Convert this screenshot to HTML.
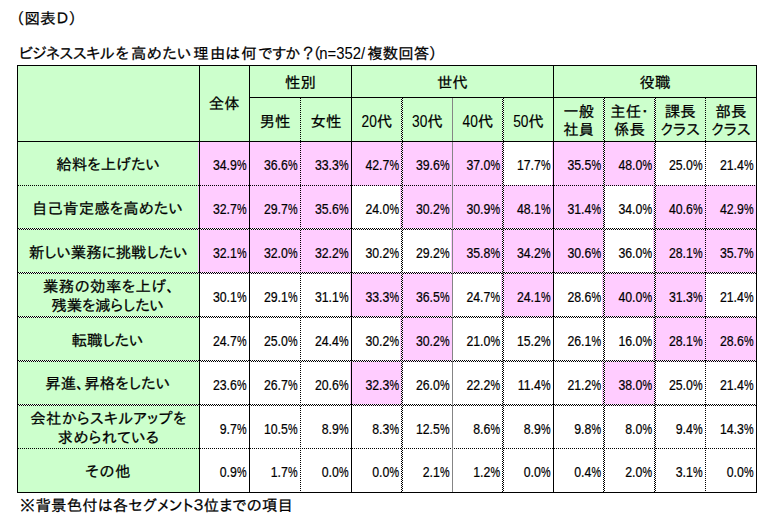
<!DOCTYPE html>
<html lang="ja"><head><meta charset="utf-8"><title>図表D</title>
<style>
html,body{margin:0;padding:0;background:#fff;}
body{width:770px;height:524px;overflow:hidden;}
svg{display:block;}
text{white-space:pre;}
.d{font-family:"Liberation Sans",sans-serif;font-size:15.5px;stroke-width:0.22px;}
.n{font-family:"Liberation Sans",sans-serif;font-size:16px;stroke-width:0.1px;}
</style></head><body>
<svg width="770" height="524" viewBox="0 0 770 524">
<rect x="0" y="0" width="770" height="524" fill="#fff"/>
<g shape-rendering="crispEdges">
<rect x="17" y="65" width="740" height="77" fill="#ccffcc"/>
<rect x="17" y="141" width="183" height="352" fill="#ccffcc"/>
<rect x="198" y="141" width="306" height="45" fill="#ffccff"/>
<rect x="552" y="141" width="104" height="45" fill="#ffccff"/>
<rect x="198" y="185" width="154" height="45" fill="#ffccff"/>
<rect x="400" y="185" width="205" height="45" fill="#ffccff"/>
<rect x="653" y="185" width="104" height="45" fill="#ffccff"/>
<rect x="198" y="228" width="154" height="46" fill="#ffccff"/>
<rect x="451" y="228" width="154" height="46" fill="#ffccff"/>
<rect x="653" y="228" width="104" height="46" fill="#ffccff"/>
<rect x="350" y="272" width="103" height="46" fill="#ffccff"/>
<rect x="501" y="272" width="53" height="46" fill="#ffccff"/>
<rect x="602" y="272" width="104" height="46" fill="#ffccff"/>
<rect x="400" y="316" width="53" height="46" fill="#ffccff"/>
<rect x="653" y="316" width="104" height="46" fill="#ffccff"/>
<rect x="350" y="360" width="53" height="46" fill="#ffccff"/>
<rect x="602" y="360" width="54" height="46" fill="#ffccff"/>
<line x1="18" y1="185.5" x2="757" y2="185.5" stroke="#000" stroke-dasharray="1 1"/>
<rect x="18" y="228" width="739" height="2" fill="#fff" fill-opacity="0.6"/>
<line x1="18" y1="228.5" x2="757" y2="228.5" stroke="#000" stroke-dasharray="1 1"/>
<line x1="19" y1="229.5" x2="757" y2="229.5" stroke="#000" stroke-dasharray="1 1"/>
<rect x="18" y="272" width="739" height="2" fill="#fff" fill-opacity="0.6"/>
<line x1="18" y1="272.5" x2="757" y2="272.5" stroke="#000" stroke-dasharray="1 1"/>
<line x1="19" y1="273.5" x2="757" y2="273.5" stroke="#000" stroke-dasharray="1 1"/>
<rect x="18" y="316" width="739" height="2" fill="#fff" fill-opacity="0.6"/>
<line x1="18" y1="316.5" x2="757" y2="316.5" stroke="#000" stroke-dasharray="1 1"/>
<line x1="19" y1="317.5" x2="757" y2="317.5" stroke="#000" stroke-dasharray="1 1"/>
<rect x="18" y="360" width="739" height="2" fill="#fff" fill-opacity="0.6"/>
<line x1="18" y1="360.5" x2="757" y2="360.5" stroke="#000" stroke-dasharray="1 1"/>
<line x1="19" y1="361.5" x2="757" y2="361.5" stroke="#000" stroke-dasharray="1 1"/>
<rect x="18" y="404" width="739" height="2" fill="#fff" fill-opacity="0.6"/>
<line x1="18" y1="404.5" x2="757" y2="404.5" stroke="#000" stroke-dasharray="1 1"/>
<line x1="19" y1="405.5" x2="757" y2="405.5" stroke="#000" stroke-dasharray="1 1"/>
<line x1="18" y1="448.5" x2="757" y2="448.5" stroke="#000" stroke-dasharray="1 1"/>
<line x1="300.5" y1="98" x2="300.5" y2="493" stroke="#000" stroke-dasharray="1 1"/>
<rect x="401" y="98" width="2" height="395" fill="#fff" fill-opacity="0.6"/>
<line x1="401.5" y1="99" x2="401.5" y2="493" stroke="#000" stroke-dasharray="1 1"/>
<line x1="402.5" y1="98" x2="402.5" y2="493" stroke="#000" stroke-dasharray="1 1"/>
<rect x="452" y="98" width="1" height="395" fill="#858585"/>
<rect x="502" y="98" width="2" height="395" fill="#fff" fill-opacity="0.6"/>
<line x1="502.5" y1="99" x2="502.5" y2="493" stroke="#000" stroke-dasharray="1 1"/>
<line x1="503.5" y1="98" x2="503.5" y2="493" stroke="#000" stroke-dasharray="1 1"/>
<rect x="603" y="98" width="2" height="395" fill="#fff" fill-opacity="0.6"/>
<line x1="603.5" y1="99" x2="603.5" y2="493" stroke="#000" stroke-dasharray="1 1"/>
<line x1="604.5" y1="98" x2="604.5" y2="493" stroke="#000" stroke-dasharray="1 1"/>
<rect x="654" y="98" width="2" height="395" fill="#fff" fill-opacity="0.6"/>
<line x1="654.5" y1="99" x2="654.5" y2="493" stroke="#000" stroke-dasharray="1 1"/>
<line x1="655.5" y1="98" x2="655.5" y2="493" stroke="#000" stroke-dasharray="1 1"/>
<line x1="705.5" y1="98" x2="705.5" y2="493" stroke="#000" stroke-dasharray="1 1"/>
<rect x="17" y="65" width="740" height="1" fill="#000"/>
<rect x="17" y="141" width="740" height="1" fill="#000"/>
<rect x="17" y="492" width="740" height="1" fill="#000"/>
<rect x="249" y="97" width="508" height="1" fill="#000"/>
<rect x="17" y="65" width="1" height="428" fill="#000"/>
<rect x="199" y="65" width="1" height="428" fill="#000"/>
<rect x="249" y="65" width="1" height="428" fill="#000"/>
<rect x="351" y="65" width="1" height="428" fill="#000"/>
<rect x="553" y="65" width="1" height="428" fill="#000"/>
<rect x="756" y="65" width="1" height="428" fill="#000"/>
</g>
<g font-family='"Liberation Sans","IPAPGothic","IPAGothic","Noto Sans CJK JP",sans-serif' font-size="15.4" fill="#000" stroke="#000" stroke-width="0.25">
<text textLength="39.70" lengthAdjust="spacing" x="16.00" y="24.3" letter-spacing="0.150">（図表</text>
<text x="57.00" y="24.3">Ｄ</text>
<text x="68.60" y="24.3">）</text>
<text textLength="95.02" lengthAdjust="spacing" x="19.20" y="59.0" letter-spacing="-0.433">ビジネススキル</text>
<text x="312.70" y="59.0">（</text>
<text textLength="61.97" lengthAdjust="spacing" x="367.30" y="59.0" letter-spacing="0.100">複数回答</text>
<text x="428.80" y="59.0">）</text>
<text textLength="273.38" lengthAdjust="spacing" x="19.80" y="511.3" letter-spacing="0.228">※背景色付は各セグメント３位までの項目</text>
<text textLength="103.88" lengthAdjust="spacing" x="56.20" y="170.0" letter-spacing="0.150">給料を上げたい</text>
<text textLength="150.97" lengthAdjust="spacing" x="32.00" y="214.0" letter-spacing="0.167">自己肯定感を高めたい</text>
<text textLength="158.61" lengthAdjust="spacing" x="28.90" y="257.8" letter-spacing="0.020">新しい業務に挑戦したい</text>
<text textLength="131.84" lengthAdjust="spacing" x="42.90" y="291.8" letter-spacing="0.488">業務の効率を上げ、</text>
<text textLength="112.59" lengthAdjust="spacing" x="51.30" y="310.5" letter-spacing="-0.029">残業を減らしたい</text>
<text textLength="71.86" lengthAdjust="spacing" x="71.60" y="345.7" letter-spacing="0.025">転職したい</text>
<text textLength="125.02" lengthAdjust="spacing" x="45.20" y="389.2" letter-spacing="0.175">昇進、昇格をしたい</text>
<text textLength="156.31" lengthAdjust="spacing" x="30.20" y="424.2" letter-spacing="0.330">会社からスキルアップを</text>
<text textLength="101.62" lengthAdjust="spacing" x="57.60" y="442.7" letter-spacing="0.467">求められている</text>
<text textLength="46.27" lengthAdjust="spacing" x="85.20" y="476.9" letter-spacing="0.850">その他</text>
<text x="115.5 131.1 146.7 162.3 177.0 193.3 210.1 225.6 241.2 258.6 272.2 285.2 302.5" y="59.0">を高めたい理由は何ですか？</text>
<text class="n" style="stroke-width:0.05px" transform="translate(319.3,59.0) scale(0.93,1)">n=352/</text>
<text x="224.2" y="108.5" text-anchor="middle">全体</text>
<text x="300.5" y="87.8" text-anchor="middle">性別</text>
<text x="452.5" y="87.8" text-anchor="middle">世代</text>
<text x="655.0" y="87.8" text-anchor="middle">役職</text>
<text x="275.0" y="126.8" text-anchor="middle">男性</text>
<text x="326.0" y="126.8" text-anchor="middle">女性</text>
<text class="n" transform="translate(376.9,126.8) scale(0.86,1)" text-anchor="end">20</text>
<text x="377.1" y="126.8">代</text>
<text class="n" transform="translate(427.4,126.8) scale(0.86,1)" text-anchor="end">30</text>
<text x="427.6" y="126.8">代</text>
<text class="n" transform="translate(477.9,126.8) scale(0.86,1)" text-anchor="end">40</text>
<text x="478.1" y="126.8">代</text>
<text class="n" transform="translate(528.5,126.8) scale(0.86,1)" text-anchor="end">50</text>
<text x="528.6" y="126.8">代</text>
<text x="578.75" y="117.2" text-anchor="middle">一般</text>
<text x="578.75" y="135.4" text-anchor="middle">社員</text>
<text x="629.5" y="117.2" text-anchor="middle">主任・</text>
<text x="629.5" y="135.4" text-anchor="middle">係長</text>
<text x="680.25" y="117.2" text-anchor="middle">課長</text>
<text x="680.25" y="135.4" text-anchor="middle">クラス</text>
<text x="731.0" y="117.2" text-anchor="middle">部長</text>
<text x="731.0" y="135.4" text-anchor="middle">クラス</text>
<text class="d" transform="translate(236.9,170.2) scale(0.795,1)" text-anchor="end">34.9</text>
<text class="d" transform="translate(246.7,170.2) scale(0.7,1)" text-anchor="end">%</text>
<text class="d" transform="translate(287.9,170.2) scale(0.795,1)" text-anchor="end">36.6</text>
<text class="d" transform="translate(297.7,170.2) scale(0.7,1)" text-anchor="end">%</text>
<text class="d" transform="translate(338.9,170.2) scale(0.795,1)" text-anchor="end">33.3</text>
<text class="d" transform="translate(348.7,170.2) scale(0.7,1)" text-anchor="end">%</text>
<text class="d" transform="translate(389.4,170.2) scale(0.795,1)" text-anchor="end">42.7</text>
<text class="d" transform="translate(399.2,170.2) scale(0.7,1)" text-anchor="end">%</text>
<text class="d" transform="translate(439.9,170.2) scale(0.795,1)" text-anchor="end">39.6</text>
<text class="d" transform="translate(449.7,170.2) scale(0.7,1)" text-anchor="end">%</text>
<text class="d" transform="translate(490.4,170.2) scale(0.795,1)" text-anchor="end">37.0</text>
<text class="d" transform="translate(500.2,170.2) scale(0.7,1)" text-anchor="end">%</text>
<text class="d" transform="translate(540.9,170.2) scale(0.795,1)" text-anchor="end">17.7</text>
<text class="d" transform="translate(550.7,170.2) scale(0.7,1)" text-anchor="end">%</text>
<text class="d" transform="translate(591.4,170.2) scale(0.795,1)" text-anchor="end">35.5</text>
<text class="d" transform="translate(601.2,170.2) scale(0.7,1)" text-anchor="end">%</text>
<text class="d" transform="translate(642.4,170.2) scale(0.795,1)" text-anchor="end">48.0</text>
<text class="d" transform="translate(652.2,170.2) scale(0.7,1)" text-anchor="end">%</text>
<text class="d" transform="translate(692.9,170.2) scale(0.795,1)" text-anchor="end">25.0</text>
<text class="d" transform="translate(702.7,170.2) scale(0.7,1)" text-anchor="end">%</text>
<text class="d" transform="translate(743.9,170.2) scale(0.795,1)" text-anchor="end">21.4</text>
<text class="d" transform="translate(753.7,170.2) scale(0.7,1)" text-anchor="end">%</text>
<text class="d" transform="translate(236.9,214.2) scale(0.795,1)" text-anchor="end">32.7</text>
<text class="d" transform="translate(246.7,214.2) scale(0.7,1)" text-anchor="end">%</text>
<text class="d" transform="translate(287.9,214.2) scale(0.795,1)" text-anchor="end">29.7</text>
<text class="d" transform="translate(297.7,214.2) scale(0.7,1)" text-anchor="end">%</text>
<text class="d" transform="translate(338.9,214.2) scale(0.795,1)" text-anchor="end">35.6</text>
<text class="d" transform="translate(348.7,214.2) scale(0.7,1)" text-anchor="end">%</text>
<text class="d" transform="translate(389.4,214.2) scale(0.795,1)" text-anchor="end">24.0</text>
<text class="d" transform="translate(399.2,214.2) scale(0.7,1)" text-anchor="end">%</text>
<text class="d" transform="translate(439.9,214.2) scale(0.795,1)" text-anchor="end">30.2</text>
<text class="d" transform="translate(449.7,214.2) scale(0.7,1)" text-anchor="end">%</text>
<text class="d" transform="translate(490.4,214.2) scale(0.795,1)" text-anchor="end">30.9</text>
<text class="d" transform="translate(500.2,214.2) scale(0.7,1)" text-anchor="end">%</text>
<text class="d" transform="translate(540.9,214.2) scale(0.795,1)" text-anchor="end">48.1</text>
<text class="d" transform="translate(550.7,214.2) scale(0.7,1)" text-anchor="end">%</text>
<text class="d" transform="translate(591.4,214.2) scale(0.795,1)" text-anchor="end">31.4</text>
<text class="d" transform="translate(601.2,214.2) scale(0.7,1)" text-anchor="end">%</text>
<text class="d" transform="translate(642.4,214.2) scale(0.795,1)" text-anchor="end">34.0</text>
<text class="d" transform="translate(652.2,214.2) scale(0.7,1)" text-anchor="end">%</text>
<text class="d" transform="translate(692.9,214.2) scale(0.795,1)" text-anchor="end">40.6</text>
<text class="d" transform="translate(702.7,214.2) scale(0.7,1)" text-anchor="end">%</text>
<text class="d" transform="translate(743.9,214.2) scale(0.795,1)" text-anchor="end">42.9</text>
<text class="d" transform="translate(753.7,214.2) scale(0.7,1)" text-anchor="end">%</text>
<text class="d" transform="translate(236.9,257.7) scale(0.795,1)" text-anchor="end">32.1</text>
<text class="d" transform="translate(246.7,257.7) scale(0.7,1)" text-anchor="end">%</text>
<text class="d" transform="translate(287.9,257.7) scale(0.795,1)" text-anchor="end">32.0</text>
<text class="d" transform="translate(297.7,257.7) scale(0.7,1)" text-anchor="end">%</text>
<text class="d" transform="translate(338.9,257.7) scale(0.795,1)" text-anchor="end">32.2</text>
<text class="d" transform="translate(348.7,257.7) scale(0.7,1)" text-anchor="end">%</text>
<text class="d" transform="translate(389.4,257.7) scale(0.795,1)" text-anchor="end">30.2</text>
<text class="d" transform="translate(399.2,257.7) scale(0.7,1)" text-anchor="end">%</text>
<text class="d" transform="translate(439.9,257.7) scale(0.795,1)" text-anchor="end">29.2</text>
<text class="d" transform="translate(449.7,257.7) scale(0.7,1)" text-anchor="end">%</text>
<text class="d" transform="translate(490.4,257.7) scale(0.795,1)" text-anchor="end">35.8</text>
<text class="d" transform="translate(500.2,257.7) scale(0.7,1)" text-anchor="end">%</text>
<text class="d" transform="translate(540.9,257.7) scale(0.795,1)" text-anchor="end">34.2</text>
<text class="d" transform="translate(550.7,257.7) scale(0.7,1)" text-anchor="end">%</text>
<text class="d" transform="translate(591.4,257.7) scale(0.795,1)" text-anchor="end">30.6</text>
<text class="d" transform="translate(601.2,257.7) scale(0.7,1)" text-anchor="end">%</text>
<text class="d" transform="translate(642.4,257.7) scale(0.795,1)" text-anchor="end">36.0</text>
<text class="d" transform="translate(652.2,257.7) scale(0.7,1)" text-anchor="end">%</text>
<text class="d" transform="translate(692.9,257.7) scale(0.795,1)" text-anchor="end">28.1</text>
<text class="d" transform="translate(702.7,257.7) scale(0.7,1)" text-anchor="end">%</text>
<text class="d" transform="translate(743.9,257.7) scale(0.795,1)" text-anchor="end">35.7</text>
<text class="d" transform="translate(753.7,257.7) scale(0.7,1)" text-anchor="end">%</text>
<text class="d" transform="translate(236.9,301.7) scale(0.795,1)" text-anchor="end">30.1</text>
<text class="d" transform="translate(246.7,301.7) scale(0.7,1)" text-anchor="end">%</text>
<text class="d" transform="translate(287.9,301.7) scale(0.795,1)" text-anchor="end">29.1</text>
<text class="d" transform="translate(297.7,301.7) scale(0.7,1)" text-anchor="end">%</text>
<text class="d" transform="translate(338.9,301.7) scale(0.795,1)" text-anchor="end">31.1</text>
<text class="d" transform="translate(348.7,301.7) scale(0.7,1)" text-anchor="end">%</text>
<text class="d" transform="translate(389.4,301.7) scale(0.795,1)" text-anchor="end">33.3</text>
<text class="d" transform="translate(399.2,301.7) scale(0.7,1)" text-anchor="end">%</text>
<text class="d" transform="translate(439.9,301.7) scale(0.795,1)" text-anchor="end">36.5</text>
<text class="d" transform="translate(449.7,301.7) scale(0.7,1)" text-anchor="end">%</text>
<text class="d" transform="translate(490.4,301.7) scale(0.795,1)" text-anchor="end">24.7</text>
<text class="d" transform="translate(500.2,301.7) scale(0.7,1)" text-anchor="end">%</text>
<text class="d" transform="translate(540.9,301.7) scale(0.795,1)" text-anchor="end">24.1</text>
<text class="d" transform="translate(550.7,301.7) scale(0.7,1)" text-anchor="end">%</text>
<text class="d" transform="translate(591.4,301.7) scale(0.795,1)" text-anchor="end">28.6</text>
<text class="d" transform="translate(601.2,301.7) scale(0.7,1)" text-anchor="end">%</text>
<text class="d" transform="translate(642.4,301.7) scale(0.795,1)" text-anchor="end">40.0</text>
<text class="d" transform="translate(652.2,301.7) scale(0.7,1)" text-anchor="end">%</text>
<text class="d" transform="translate(692.9,301.7) scale(0.795,1)" text-anchor="end">31.3</text>
<text class="d" transform="translate(702.7,301.7) scale(0.7,1)" text-anchor="end">%</text>
<text class="d" transform="translate(743.9,301.7) scale(0.795,1)" text-anchor="end">21.4</text>
<text class="d" transform="translate(753.7,301.7) scale(0.7,1)" text-anchor="end">%</text>
<text class="d" transform="translate(236.9,345.7) scale(0.795,1)" text-anchor="end">24.7</text>
<text class="d" transform="translate(246.7,345.7) scale(0.7,1)" text-anchor="end">%</text>
<text class="d" transform="translate(287.9,345.7) scale(0.795,1)" text-anchor="end">25.0</text>
<text class="d" transform="translate(297.7,345.7) scale(0.7,1)" text-anchor="end">%</text>
<text class="d" transform="translate(338.9,345.7) scale(0.795,1)" text-anchor="end">24.4</text>
<text class="d" transform="translate(348.7,345.7) scale(0.7,1)" text-anchor="end">%</text>
<text class="d" transform="translate(389.4,345.7) scale(0.795,1)" text-anchor="end">30.2</text>
<text class="d" transform="translate(399.2,345.7) scale(0.7,1)" text-anchor="end">%</text>
<text class="d" transform="translate(439.9,345.7) scale(0.795,1)" text-anchor="end">30.2</text>
<text class="d" transform="translate(449.7,345.7) scale(0.7,1)" text-anchor="end">%</text>
<text class="d" transform="translate(490.4,345.7) scale(0.795,1)" text-anchor="end">21.0</text>
<text class="d" transform="translate(500.2,345.7) scale(0.7,1)" text-anchor="end">%</text>
<text class="d" transform="translate(540.9,345.7) scale(0.795,1)" text-anchor="end">15.2</text>
<text class="d" transform="translate(550.7,345.7) scale(0.7,1)" text-anchor="end">%</text>
<text class="d" transform="translate(591.4,345.7) scale(0.795,1)" text-anchor="end">26.1</text>
<text class="d" transform="translate(601.2,345.7) scale(0.7,1)" text-anchor="end">%</text>
<text class="d" transform="translate(642.4,345.7) scale(0.795,1)" text-anchor="end">16.0</text>
<text class="d" transform="translate(652.2,345.7) scale(0.7,1)" text-anchor="end">%</text>
<text class="d" transform="translate(692.9,345.7) scale(0.795,1)" text-anchor="end">28.1</text>
<text class="d" transform="translate(702.7,345.7) scale(0.7,1)" text-anchor="end">%</text>
<text class="d" transform="translate(743.9,345.7) scale(0.795,1)" text-anchor="end">28.6</text>
<text class="d" transform="translate(753.7,345.7) scale(0.7,1)" text-anchor="end">%</text>
<text class="d" transform="translate(236.9,389.7) scale(0.795,1)" text-anchor="end">23.6</text>
<text class="d" transform="translate(246.7,389.7) scale(0.7,1)" text-anchor="end">%</text>
<text class="d" transform="translate(287.9,389.7) scale(0.795,1)" text-anchor="end">26.7</text>
<text class="d" transform="translate(297.7,389.7) scale(0.7,1)" text-anchor="end">%</text>
<text class="d" transform="translate(338.9,389.7) scale(0.795,1)" text-anchor="end">20.6</text>
<text class="d" transform="translate(348.7,389.7) scale(0.7,1)" text-anchor="end">%</text>
<text class="d" transform="translate(389.4,389.7) scale(0.795,1)" text-anchor="end">32.3</text>
<text class="d" transform="translate(399.2,389.7) scale(0.7,1)" text-anchor="end">%</text>
<text class="d" transform="translate(439.9,389.7) scale(0.795,1)" text-anchor="end">26.0</text>
<text class="d" transform="translate(449.7,389.7) scale(0.7,1)" text-anchor="end">%</text>
<text class="d" transform="translate(490.4,389.7) scale(0.795,1)" text-anchor="end">22.2</text>
<text class="d" transform="translate(500.2,389.7) scale(0.7,1)" text-anchor="end">%</text>
<text class="d" transform="translate(540.9,389.7) scale(0.795,1)" text-anchor="end">11.4</text>
<text class="d" transform="translate(550.7,389.7) scale(0.7,1)" text-anchor="end">%</text>
<text class="d" transform="translate(591.4,389.7) scale(0.795,1)" text-anchor="end">21.2</text>
<text class="d" transform="translate(601.2,389.7) scale(0.7,1)" text-anchor="end">%</text>
<text class="d" transform="translate(642.4,389.7) scale(0.795,1)" text-anchor="end">38.0</text>
<text class="d" transform="translate(652.2,389.7) scale(0.7,1)" text-anchor="end">%</text>
<text class="d" transform="translate(692.9,389.7) scale(0.795,1)" text-anchor="end">25.0</text>
<text class="d" transform="translate(702.7,389.7) scale(0.7,1)" text-anchor="end">%</text>
<text class="d" transform="translate(743.9,389.7) scale(0.795,1)" text-anchor="end">21.4</text>
<text class="d" transform="translate(753.7,389.7) scale(0.7,1)" text-anchor="end">%</text>
<text class="d" transform="translate(236.9,433.7) scale(0.795,1)" text-anchor="end">9.7</text>
<text class="d" transform="translate(246.7,433.7) scale(0.7,1)" text-anchor="end">%</text>
<text class="d" transform="translate(287.9,433.7) scale(0.795,1)" text-anchor="end">10.5</text>
<text class="d" transform="translate(297.7,433.7) scale(0.7,1)" text-anchor="end">%</text>
<text class="d" transform="translate(338.9,433.7) scale(0.795,1)" text-anchor="end">8.9</text>
<text class="d" transform="translate(348.7,433.7) scale(0.7,1)" text-anchor="end">%</text>
<text class="d" transform="translate(389.4,433.7) scale(0.795,1)" text-anchor="end">8.3</text>
<text class="d" transform="translate(399.2,433.7) scale(0.7,1)" text-anchor="end">%</text>
<text class="d" transform="translate(439.9,433.7) scale(0.795,1)" text-anchor="end">12.5</text>
<text class="d" transform="translate(449.7,433.7) scale(0.7,1)" text-anchor="end">%</text>
<text class="d" transform="translate(490.4,433.7) scale(0.795,1)" text-anchor="end">8.6</text>
<text class="d" transform="translate(500.2,433.7) scale(0.7,1)" text-anchor="end">%</text>
<text class="d" transform="translate(540.9,433.7) scale(0.795,1)" text-anchor="end">8.9</text>
<text class="d" transform="translate(550.7,433.7) scale(0.7,1)" text-anchor="end">%</text>
<text class="d" transform="translate(591.4,433.7) scale(0.795,1)" text-anchor="end">9.8</text>
<text class="d" transform="translate(601.2,433.7) scale(0.7,1)" text-anchor="end">%</text>
<text class="d" transform="translate(642.4,433.7) scale(0.795,1)" text-anchor="end">8.0</text>
<text class="d" transform="translate(652.2,433.7) scale(0.7,1)" text-anchor="end">%</text>
<text class="d" transform="translate(692.9,433.7) scale(0.795,1)" text-anchor="end">9.4</text>
<text class="d" transform="translate(702.7,433.7) scale(0.7,1)" text-anchor="end">%</text>
<text class="d" transform="translate(743.9,433.7) scale(0.795,1)" text-anchor="end">14.3</text>
<text class="d" transform="translate(753.7,433.7) scale(0.7,1)" text-anchor="end">%</text>
<text class="d" transform="translate(236.9,477.2) scale(0.795,1)" text-anchor="end">0.9</text>
<text class="d" transform="translate(246.7,477.2) scale(0.7,1)" text-anchor="end">%</text>
<text class="d" transform="translate(287.9,477.2) scale(0.795,1)" text-anchor="end">1.7</text>
<text class="d" transform="translate(297.7,477.2) scale(0.7,1)" text-anchor="end">%</text>
<text class="d" transform="translate(338.9,477.2) scale(0.795,1)" text-anchor="end">0.0</text>
<text class="d" transform="translate(348.7,477.2) scale(0.7,1)" text-anchor="end">%</text>
<text class="d" transform="translate(389.4,477.2) scale(0.795,1)" text-anchor="end">0.0</text>
<text class="d" transform="translate(399.2,477.2) scale(0.7,1)" text-anchor="end">%</text>
<text class="d" transform="translate(439.9,477.2) scale(0.795,1)" text-anchor="end">2.1</text>
<text class="d" transform="translate(449.7,477.2) scale(0.7,1)" text-anchor="end">%</text>
<text class="d" transform="translate(490.4,477.2) scale(0.795,1)" text-anchor="end">1.2</text>
<text class="d" transform="translate(500.2,477.2) scale(0.7,1)" text-anchor="end">%</text>
<text class="d" transform="translate(540.9,477.2) scale(0.795,1)" text-anchor="end">0.0</text>
<text class="d" transform="translate(550.7,477.2) scale(0.7,1)" text-anchor="end">%</text>
<text class="d" transform="translate(591.4,477.2) scale(0.795,1)" text-anchor="end">0.4</text>
<text class="d" transform="translate(601.2,477.2) scale(0.7,1)" text-anchor="end">%</text>
<text class="d" transform="translate(642.4,477.2) scale(0.795,1)" text-anchor="end">2.0</text>
<text class="d" transform="translate(652.2,477.2) scale(0.7,1)" text-anchor="end">%</text>
<text class="d" transform="translate(692.9,477.2) scale(0.795,1)" text-anchor="end">3.1</text>
<text class="d" transform="translate(702.7,477.2) scale(0.7,1)" text-anchor="end">%</text>
<text class="d" transform="translate(743.9,477.2) scale(0.795,1)" text-anchor="end">0.0</text>
<text class="d" transform="translate(753.7,477.2) scale(0.7,1)" text-anchor="end">%</text>
</g>
</svg>
</body></html>
